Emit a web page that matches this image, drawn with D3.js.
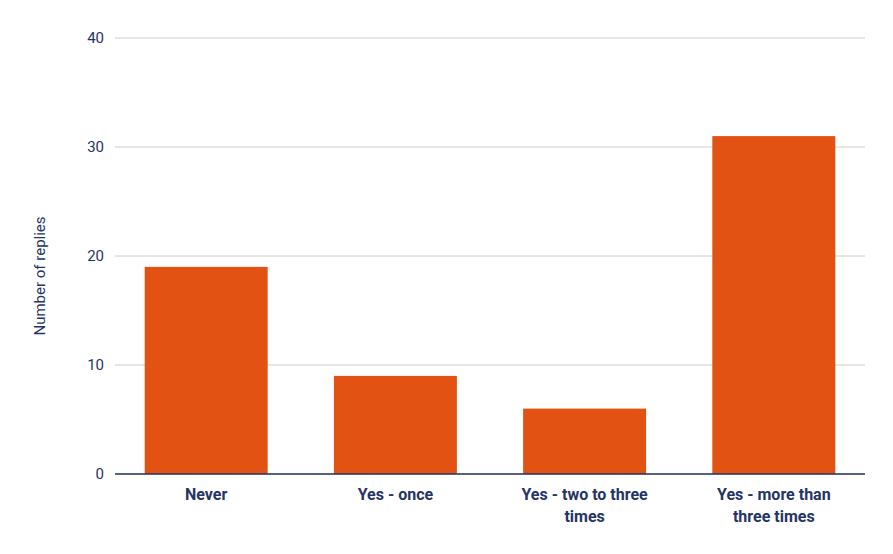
<!DOCTYPE html>
<html><head><meta charset="utf-8">
<script src="https://cdn.jsdelivr.net/npm/d3@7"></script>
<style>body{margin:0;background:#fff}</style></head>
<body><svg id="c" width="893" height="554"></svg>
<script>
const categories = [["Never"],["Yes - once"],["Yes - two to three","times"],["Yes - more than","three times"]];
const values = [19, 9, 6, 31];
const yTicks = [0, 10, 20, 30, 40];
const svg = d3.select("#c");
const font = "Roboto, Arial, sans-serif", navy = "#253466";
const y = d3.scaleLinear().domain([0, 40]).range([474, 38]);
const x = d3.scaleBand().domain(d3.range(values.length)).range([144.7, 835.3]).paddingInner(0.35).paddingOuter(0);
svg.selectAll(".g").data(yTicks).enter().append("line")
  .attr("x1", 115).attr("x2", 865).attr("y1", d => y(d)).attr("y2", d => y(d))
  .attr("stroke", "#cccccc").attr("stroke-width", 1);
svg.selectAll(".yt").data(yTicks).enter().append("text")
  .attr("x", 104).attr("y", d => y(d) + 5).attr("text-anchor", "end")
  .attr("font-family", font).attr("font-size", 15).attr("fill", navy).text(d => d);
svg.selectAll(".b").data(values).enter().append("rect")
  .attr("x", (d, i) => x(i)).attr("width", x.bandwidth())
  .attr("y", d => y(d)).attr("height", d => y(0) - y(d)).attr("fill", "#e15213");
svg.append("line").attr("x1", 115).attr("x2", 865).attr("y1", y(0)).attr("y2", y(0)).attr("stroke", navy).attr("stroke-width", 1.3);
categories.forEach((lines, i) => {
  const t = svg.append("text").attr("text-anchor", "middle").attr("font-family", font)
    .attr("font-size", 16).attr("font-weight", "bold").attr("fill", navy);
  lines.forEach((l, j) => t.append("tspan").attr("x", x(i) + x.bandwidth() / 2).attr("y", 500 + j * 22).text(l));
});
svg.append("text").attr("transform", "translate(45,276) rotate(-90)").attr("text-anchor", "middle")
  .attr("font-family", font).attr("font-size", 15).attr("fill", navy).text("Number of replies");
</script></body></html>
